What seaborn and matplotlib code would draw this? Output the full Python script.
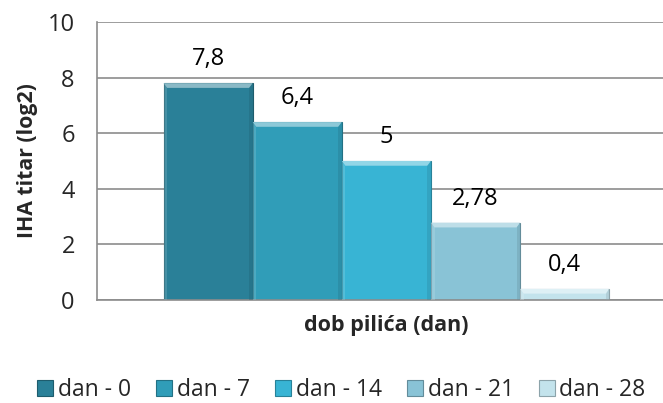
import numpy as np
import pandas as pd
import seaborn as sns
import matplotlib.pyplot as plt
from matplotlib.patches import Polygon, Patch
import matplotlib.colors as mcolors

# data
category = ["dob pilića (dan)"]
series = ["dan - 0", "dan - 7", "dan - 14", "dan - 21", "dan - 28"]
values = [7.8, 6.4, 5.0, 2.78, 0.4]
labels = ["7,8", "6,4", "5", "2,78", "0,4"]
colors = ["#2A8098", "#309DB8", "#38B4D4", "#89C3D6", "#C3E3EC"]

sns.set_style("white")
plt.rcParams['font.family'] = ['Open Sans', 'DejaVu Sans']

df = pd.DataFrame({"cat": category * len(series), "serija": series, "vrijednost": values})

fig = plt.figure(figsize=(6.63, 4.03), dpi=100)
ax = fig.add_axes([0.1463, 0.2556, 0.873, 0.6898])

sns.barplot(data=df, x="cat", y="vrijednost", hue="serija", palette=colors,
            width=0.77, gap=0, legend=False, ax=ax, saturation=1,
            edgecolor="none", linewidth=0)


def darker(c, f=0.72):
    return tuple(v * f for v in mcolors.to_rgb(c))


# bevel look: lighter top, darker right side
for p, c, lab in zip(ax.patches, colors, labels):
    x0, w, h = p.get_x(), p.get_width(), p.get_height()
    bx, by = w * 0.04, 0.17
    light = tuple(min(1, v + (1 - v) * 0.45) for v in mcolors.to_rgb(c))
    by_ = min(by, h / 2)
    ax.add_patch(Polygon([[x0, h], [x0 + w, h], [x0 + w - bx, h - by_], [x0 + bx, h - by_]],
                         closed=True, facecolor=light, edgecolor="none", zorder=3))
    ax.add_patch(Polygon([[x0 + w, h], [x0 + w, 0], [x0 + w - bx, 0], [x0 + w - bx, h - by_]],
                         closed=True, facecolor=darker(c), edgecolor="none", alpha=0.3, zorder=3))
    ax.add_patch(Polygon([[x0, h], [x0, 0], [x0 + bx, 0], [x0 + bx, h - by_]],
                         closed=True, facecolor=light, edgecolor="none", alpha=0.3, zorder=3))
    p.set_edgecolor(darker(c))
    p.set_linewidth(0.8)
    ax.annotate(lab, (x0 + w / 2, h), xytext=(0, 13), textcoords="offset points",
                ha="center", va="baseline", fontsize=17, color="black")

ax.set_ylim(0, 10)
ax.set_yticks([0, 2, 4, 6, 8, 10])
ax.set_yticklabels(["0", "2", "4", "6", "8", "10"], fontsize=17)
ax.set_xticks([])
ax.set_xlabel("dob pilića (dan)", fontsize=15.5, fontweight="bold", labelpad=11)
ax.set_ylabel("IHA titar (log2)", fontsize=15.3, fontweight="bold", labelpad=7)
ax.grid(axis="y", color="#8c8c8c", linewidth=1.2)
ax.set_axisbelow(True)
ax.tick_params(axis="y", length=0, pad=16)
for s in ["top", "right"]:
    ax.spines[s].set_visible(False)
for s in ["left", "bottom"]:
    ax.spines[s].set_color("#8c8c8c")
    ax.spines[s].set_linewidth(1.2)

handles = [Patch(facecolor=c, edgecolor=darker(c), linewidth=0.8) for c in colors]
fig.legend(handles, series, loc="lower center", bbox_to_anchor=(0.515, -0.048), ncol=5,
           frameon=False, fontsize=16.5, handlelength=0.7, handleheight=0.7,
           handletextpad=0.2, columnspacing=1.1)

fig.savefig("out.png", dpi=100)
